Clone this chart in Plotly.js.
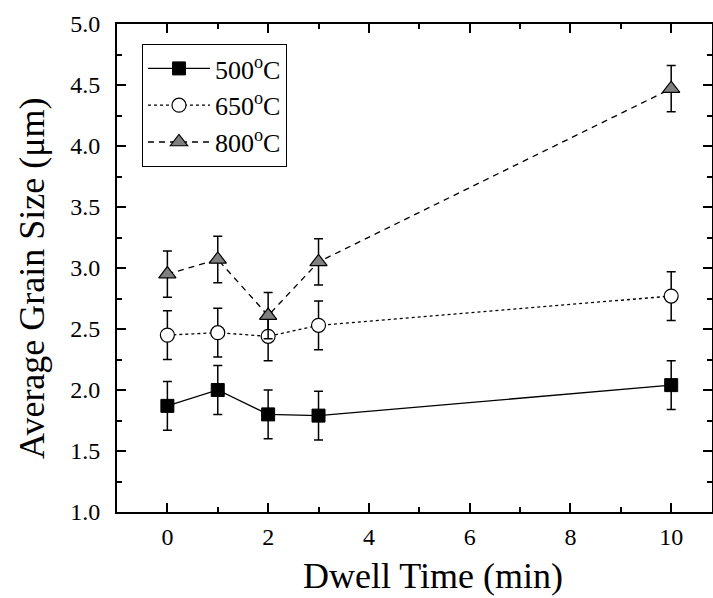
<!DOCTYPE html>
<html>
<head>
<meta charset="utf-8">
<script src="https://cdn.plot.ly/plotly-3.0.1.min.js"></script>
<style>html,body{margin:0;padding:0;background:#fff;}#chart{width:713px;height:598px;}</style>
</head>
<body>
<div id="chart"></div>
<script>
const dwellTime = [0, 1, 2, 3, 10];
const names = ["500<sup>o</sup>C", "650<sup>o</sup>C", "800<sup>o</sup>C"];
const grain500 = [1.87, 2.00, 1.80, 1.79, 2.04];
const err500 = [0.2, 0.2, 0.2, 0.2, 0.2];
const grain650 = [2.45, 2.47, 2.44, 2.53, 2.77];
const err650 = [0.2, 0.2, 0.2, 0.2, 0.2];
const grain800 = [2.95, 3.07, 2.61, 3.05, 4.47];
const err800 = [0.19, 0.19, 0.19, 0.19, 0.19];
const xTitle = 'Dwell Time (min)';
const yTitle = 'Average Grain Size (μm)';

function errStyle(arr) {
  return {type: 'data', array: arr, visible: true, color: '#000', thickness: 1.5, width: 4.5};
}

const traces = [
  {x: dwellTime, y: grain500, name: names[0], type: 'scatter', mode: 'lines+markers',
   line: {color: '#000', width: 1.3, dash: 'solid'},
   marker: {symbol: 'square', size: 13, color: '#000', line: {color: '#000', width: 1}},
   error_y: errStyle(err500)},
  {x: dwellTime, y: grain650, name: names[1], type: 'scatter', mode: 'lines+markers',
   line: {color: '#000', width: 1.3, dash: 'dot'},
   marker: {symbol: 'circle', size: 14, color: '#fff', line: {color: '#000', width: 1.2}},
   error_y: errStyle(err650)},
  {x: dwellTime, y: grain800, name: names[2], type: 'scatter', mode: 'lines+markers',
   line: {color: '#000', width: 1.3, dash: '6px,5px'},
   marker: {symbol: 'triangle-up', size: 15, color: '#808080', line: {color: '#000', width: 1.2}},
   error_y: errStyle(err800)}
];

const FAM = 'Liberation Serif';
function f(size) { return {family: FAM, size: size, color: '#000'}; }

const layout = {
  width: 713, height: 598,
  margin: {l: 117, r: 1, t: 24, b: 86},
  paper_bgcolor: '#fff', plot_bgcolor: '#fff',
  showlegend: true,
  font: f(24),
  legend: {x: 0.042, y: 0.959, xanchor: 'left', yanchor: 'top',
    bgcolor: '#fff', bordercolor: '#000', borderwidth: 1,
    font: f(26), tracegroupgap: 0, itemwidth: 62},
  xaxis: {
    range: [-1, 10.81], showgrid: false, zeroline: false,
    showline: true, linecolor: '#000', linewidth: 2, mirror: 'ticks',
    ticks: 'inside', ticklen: 9, tickwidth: 2, tickcolor: '#000',
    tick0: 0, dtick: 2, ticklabelstandoff: 2,
    minor: {ticks: 'inside', ticklen: 5, tickwidth: 2, tickcolor: '#000', dtick: 1, showgrid: false},
    tickfont: {family: 'Liberation Serif', size: 24, color: '#000'}
  },
  yaxis: {
    range: [1.0, 5.0], showgrid: false, zeroline: false,
    showline: true, linecolor: '#000', linewidth: 2, mirror: 'ticks',
    ticks: 'inside', ticklen: 9, tickwidth: 2, tickcolor: '#000',
    tick0: 1, dtick: 0.5, tickformat: '.1f', ticklabelstandoff: 10,
    minor: {ticks: 'inside', ticklen: 5, tickwidth: 2, tickcolor: '#000', dtick: 0.25, showgrid: false},
    tickfont: {family: 'Liberation Serif', size: 24, color: '#000'}
  },
  annotations: [
    {text: xTitle, xref: 'paper', yref: 'paper', x: 0.531, y: -0.131,
     xanchor: 'center', yanchor: 'middle', showarrow: false, font: f(36)},
    {text: yTitle, xref: 'paper', yref: 'paper', x: -0.143, y: 0.4795, textangle: -90,
     xanchor: 'center', yanchor: 'middle', showarrow: false, font: f(36)}
  ]
};

Plotly.newPlot('chart', traces, layout, {displayModeBar: false, staticPlot: true});
</script>
</body>
</html>
